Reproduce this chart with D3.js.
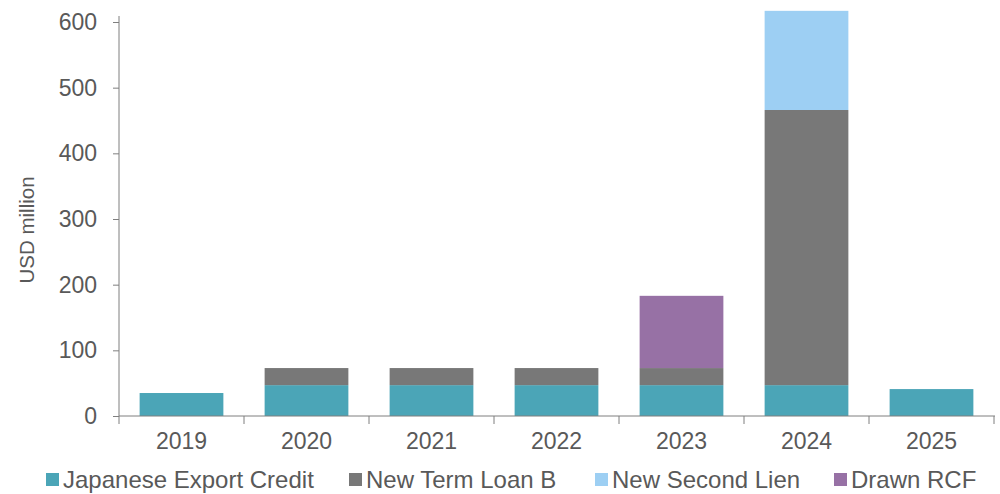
<!DOCTYPE html>
<meta charset="utf-8">
<style>
body { margin: 0; background: #fff; }
text { font-family: "Liberation Sans", Arial, sans-serif; fill: #595959; }
</style>
<svg width="1000" height="494"></svg>
<script src="https://cdn.jsdelivr.net/npm/d3@7"></script>
<script>

var years = ["2019", "2020", "2021", "2022", "2023", "2024", "2025"];
var seriesNames = ["Japanese Export Credit", "New Term Loan B", "New Second Lien", "Drawn RCF"];
var exportCredit = [35, 47, 47, 47, 47, 47, 41];
var termLoanB = [0, 26, 26, 26, 26, 419, 0];
var secondLien = [0, 0, 0, 0, 0, 151, 0];
var drawnRcf = [0, 0, 0, 0, 110, 0, 0];
var yTicks = [0, 100, 200, 300, 400, 500, 600];
var colors = ["#4ba5b7", "#787878", "#9dcff3", "#9771a5"];

var svg = d3.select("svg");
var plotLeft = 119, plotRight = 994, plotTop = 22, plotBottom = 416;

var rows = years.map(function(y, i) {
    return { year: y, a: exportCredit[i], b: termLoanB[i], c: secondLien[i], d: drawnRcf[i] };
});
var stack = d3.stack().keys(["a", "b", "c", "d"])(rows);

var x = d3.scaleBand().domain(years).range([plotLeft, plotRight]).paddingInner(0.33).paddingOuter(0.165);
var y = d3.scaleLinear().domain([0, 600]).range([plotBottom, plotTop]);

// bars
svg.append("g").selectAll("g")
    .data(stack)
    .enter().append("g")
    .attr("fill", function(d, i) { return colors[i]; })
    .selectAll("rect")
    .data(function(d) { return d.filter(function(p) { return p[1] - p[0] > 0; }); })
    .enter().append("rect")
    .attr("x", function(d) { return x(d.data.year); })
    .attr("width", x.bandwidth())
    .attr("y", function(d) { return y(d[1]); })
    .attr("height", function(d) { return y(d[0]) - y(d[1]); });

// y axis
var yAxis = svg.append("g")
    .attr("transform", "translate(" + plotLeft + ",0)")
    .call(d3.axisLeft(y).tickValues(yTicks).tickSize(6).tickPadding(16));
yAxis.select(".domain").attr("stroke", "#7f7f7f").attr("d", "M0," + (plotTop - 6) + "V" + plotBottom);
yAxis.selectAll(".tick line").attr("stroke", "#7f7f7f");
yAxis.selectAll("text").style("font-size", "23px").attr("fill", "#595959");

// x axis with ticks at category boundaries
var xg = svg.append("g").attr("transform", "translate(0," + plotBottom + ")");
xg.append("line").attr("x1", plotLeft).attr("x2", plotRight + 1).attr("stroke", "#7f7f7f");
var step = x.step();
xg.selectAll(".bt")
    .data(d3.range(years.length + 1))
    .enter().append("line")
    .attr("x1", function(i) { return plotLeft + i * step; })
    .attr("x2", function(i) { return plotLeft + i * step; })
    .attr("y1", 0).attr("y2", 8)
    .attr("stroke", "#7f7f7f");
xg.selectAll("text")
    .data(years)
    .enter().append("text")
    .attr("x", function(d) { return x(d) + x.bandwidth() / 2; })
    .attr("y", 33)
    .attr("text-anchor", "middle")
    .style("font-size", "23px")
    .text(function(d) { return d; });

// y title
svg.append("text")
    .attr("transform", "translate(34," + 230 + ") rotate(-90)")
    .attr("text-anchor", "middle")
    .style("font-size", "20.5px")
    .text("USD million");

// legend
var legendX = [46, 349, 595, 834];
var lg = svg.append("g").selectAll("g")
    .data(seriesNames)
    .enter().append("g")
    .attr("transform", function(d, i) { return "translate(" + legendX[i] + ",473)"; });
lg.append("rect").attr("width", 13).attr("height", 13).attr("fill", function(d, i) { return colors[i]; });
lg.append("text").attr("x", 17).attr("y", 15).style("font-size", "24px").text(function(d) { return d; });

</script>
